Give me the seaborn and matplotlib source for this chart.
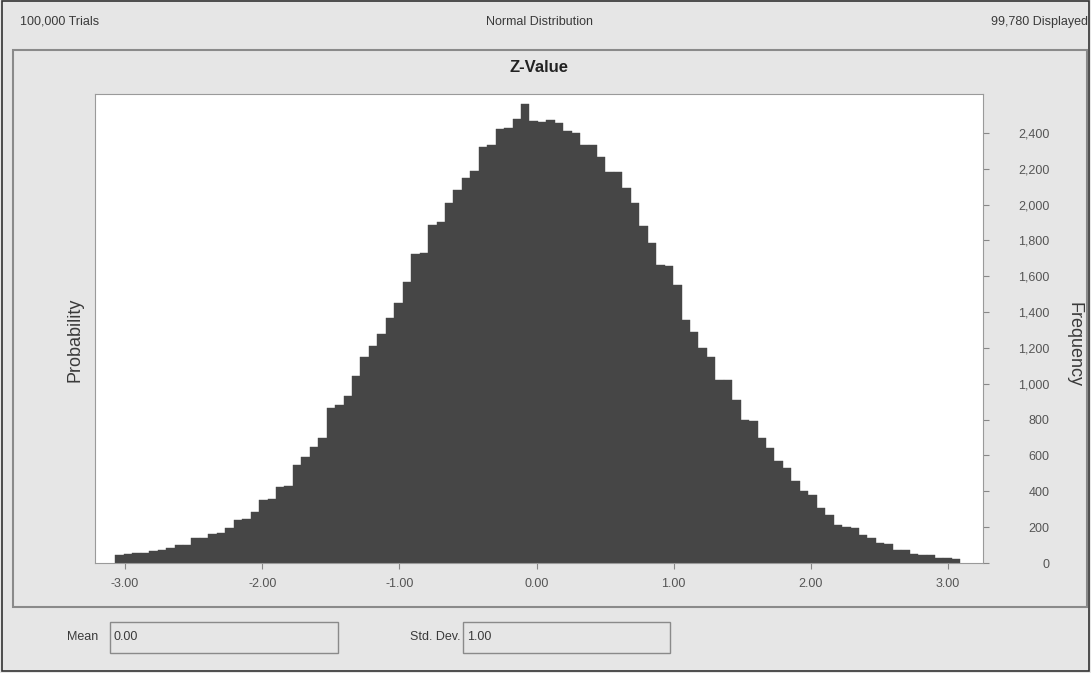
import numpy as np
import pandas as pd
import matplotlib.pyplot as plt
import seaborn as sns
from matplotlib.patches import Rectangle
from matplotlib.ticker import FuncFormatter

# histogram of 100,000 trials, counts (left to right)
bin_lo = -3.07
bin_hi = 3.09
counts = [45, 52, 55, 58, 67, 70, 84, 98, 102, 138,
          142, 160, 168, 195, 238, 245, 285, 350, 358, 425,
          430, 547, 592, 648, 700, 866, 880, 930, 1045, 1151,
          1210, 1280, 1369, 1453, 1570, 1726, 1730, 1888, 1900, 2010,
          2084, 2150, 2190, 2324, 2330, 2419, 2425, 2475, 2559, 2464,
          2460, 2470, 2455, 2410, 2400, 2335, 2330, 2268, 2184, 2180,
          2095, 2011, 1880, 1788, 1665, 1660, 1553, 1358, 1290, 1200,
          1151, 1022, 1020, 911, 800, 790, 700, 640, 570, 531,
          460, 400, 380, 307, 268, 210, 201, 195, 156, 140,
          112, 105, 73, 70, 48, 45, 42, 30, 28, 25]
x_ticks = [-3, -2, -1, 0, 1, 2, 3]
y_ticks = list(range(0, 2401, 200))

W, H = 1091, 673
def fx(x):
    return x / W
def fy(y):
    return 1 - y / H

nb = len(counts)
w = (bin_hi - bin_lo) / nb
df = pd.DataFrame({'z': [bin_lo + (i + 0.5) * w for i in range(nb)], 'n': counts})

sns.set_style('white')
plt.rcParams['font.family'] = ['Liberation Sans', 'DejaVu Sans']
plt.rcParams['axes.unicode_minus'] = False

bg = '#e6e6e6'
txt = '#3a3a3a'
fig = plt.figure(figsize=(W / 100, H / 100), dpi=100, facecolor=bg)

# window + panel frames
fig.patches.append(Rectangle((fx(2), fy(671)), fx(1087), 670 / H, transform=fig.transFigure,
                             fill=False, ec='#333333', lw=1.2))
fig.patches.append(Rectangle((fx(13), fy(607)), fx(1074), 557 / H, transform=fig.transFigure,
                             fill=False, ec='#8a8a8a', lw=1.5))

ax = fig.add_axes([fx(95), fy(563), fx(888), 469 / H])
sns.histplot(data=df, x='z', weights='n', bins=nb, binrange=(bin_lo, bin_hi),
             color='#464646', alpha=1, edgecolor='#464646', linewidth=0.3, ax=ax)
ax.set_xlim(-3.219, 3.255)
ax.set_ylim(0, 2617)
ax.set_facecolor('white')
for s in ax.spines.values():
    s.set_color('#9a9a9a')
    s.set_linewidth(0.8)

ax.set_xticks(x_ticks)
ax.xaxis.set_major_formatter(FuncFormatter(lambda v, p: f'{v:.2f}'))
ax.yaxis.tick_right()
ax.set_yticks(y_ticks)
ax.yaxis.set_major_formatter(FuncFormatter(lambda v, p: f'{int(v):,}'))
ax.tick_params(axis='x', bottom=True, length=4, pad=7, color='#888888', labelsize=9, labelcolor='#555555')
ax.tick_params(axis='y', right=True, length=4, pad=44, color='#888888', labelsize=9, labelcolor='#555555')
for lbl in ax.get_yticklabels():
    lbl.set_ha('right')
ax.set_xlabel('')
ax.set_ylabel('')

# texts
fig.text(fx(20), fy(22), '100,000 Trials', fontsize=9, color=txt, va='center', ha='left')
fig.text(fx(540), fy(22), 'Normal Distribution', fontsize=9, color=txt, va='center', ha='center')
fig.text(fx(1088), fy(22), '99,780 Displayed', fontsize=9, color=txt, va='center', ha='right')
fig.text(fx(539), fy(68), 'Z-Value', fontsize=12, fontweight='bold', color='#222222', va='center', ha='center')
fig.text(fx(75), fy(340), 'Probability', fontsize=13, color=txt, rotation=90, va='center', ha='center')
fig.text(fx(1074), fy(345), 'Frequency', fontsize=13, color=txt, rotation=270, va='center', ha='center')

# mean / std boxes
fig.text(fx(98), fy(637), 'Mean', fontsize=9, color=txt, va='center', ha='right')
fig.patches.append(Rectangle((fx(110), fy(653)), fx(228), 31 / H, transform=fig.transFigure,
                             fill=False, ec='#8a8a8a', lw=1))
fig.text(fx(114), fy(637), '0.00', fontsize=9, color=txt, va='center', ha='left')
fig.text(fx(460), fy(637), 'Std. Dev.', fontsize=9, color=txt, va='center', ha='right')
fig.patches.append(Rectangle((fx(463), fy(653)), fx(207), 31 / H, transform=fig.transFigure,
                             fill=False, ec='#8a8a8a', lw=1))
fig.text(fx(467), fy(637), '1.00', fontsize=9, color=txt, va='center', ha='left')

fig.savefig('out.png', dpi=100, facecolor=bg)
